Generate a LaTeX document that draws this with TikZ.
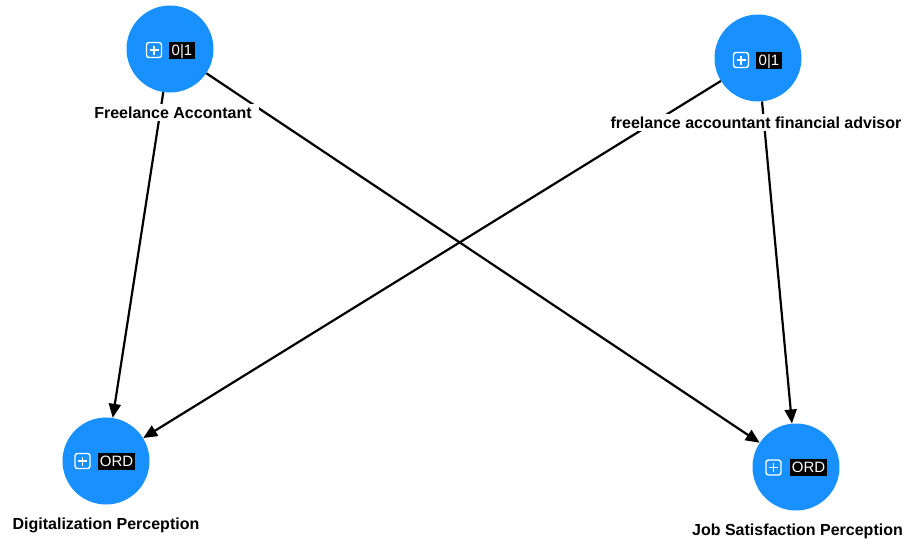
\documentclass[tikz,border=0pt]{standalone}
\usepackage{fontspec}
\setmainfont{Liberation Sans}
\usetikzlibrary{arrows.meta}
\definecolor{nodeblue}{RGB}{24,144,255}
\tikzset{
  var/.style={circle, fill=nodeblue, minimum size=87pt, inner sep=0pt},
  lab/.style={fill=white, inner ysep=3pt, inner xsep=7pt, anchor=base, font=\fontsize{16}{18}\selectfont\bfseries},
  tag/.style={fill=black, text=white, inner sep=0pt, minimum height=17pt, text depth=0pt, font=\fontsize{15}{17}\selectfont},
  icon/.style={draw=white, line width=1.4pt, rounded corners=2.5pt, minimum size=15pt, inner sep=0pt},
  link/.style={line width=2.2pt, -{Triangle[length=14pt,width=12pt]}},
}
\newcommand\plusmark[1]{%
  \draw[white, line width=1.4pt] ([yshift=-4.5pt]#1.center) -- ([yshift=4.5pt]#1.center)
    ([xshift=-4.5pt]#1.center) -- ([xshift=4.5pt]#1.center);}
\begin{document}
\begin{tikzpicture}[x=1pt,y=-1pt]
\useasboundingbox (0,0) rectangle (906,539);
% variable nodes
\node[var] (fa) at (170,49) {};
\node[var] (ffa) at (758,58) {};
\node[var] (dp) at (106,461) {};
\node[var] (js) at (796,467) {};
% edges
\draw[link] (fa) -- (dp);
\draw[link] (fa) -- (js);
\draw[link] (ffa) -- (dp);
\draw[link] (ffa) -- (js);
% labels
\node[lab] (lfa) at (173,118.3) {Freelance Accontant};
\node[lab] (lffa) at (756,128.3) {freelance accountant financial advisor};
\node[lab] (ldp) at (106,529.3) {Digitalization Perception};
\node[lab] (ljs) at (797.5,535) {Job Satisfaction Perception};
% icons and tags
\node[icon] (ifa) at (154,50) {};
\plusmark{ifa}
\node[tag, minimum width=26pt] (tfa) at (182,50) {0|1};
\node[icon] (iffa) at (741,60) {};
\plusmark{iffa}
\node[tag, minimum width=26pt] (tffa) at (769,60) {0|1};
\node[icon] (idp) at (82.5,461) {};
\plusmark{idp}
\node[tag, minimum width=37pt] (tdp) at (116.5,461) {ORD};
\node[icon] (ijs) at (773.5,467.5) {};
\plusmark{ijs}
\node[tag, minimum width=37pt] (tjs) at (808.5,467.5) {ORD};
\end{tikzpicture}
\end{document}
